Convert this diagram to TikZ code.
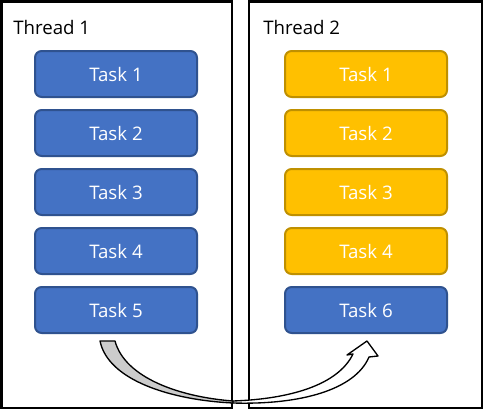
\documentclass[tikz,border=0pt]{standalone}
\usepackage{fontspec}
\setmainfont{Open Sans}
\begin{document}
\begin{tikzpicture}[x=0.75pt,y=-0.75pt,
  threadbox/.style={draw=black,line width=1.5pt},
  taskbase/.style={rounded corners=5pt,line width=1.5pt,minimum width=121.5pt,minimum height=34.5pt,inner sep=0pt,text=white,font=\fontsize{14}{16}\selectfont},
  bluetask/.style={taskbase,fill=blue!5!black!0!white,fill={rgb,255:red,68;green,114;blue,196},draw={rgb,255:red,47;green,82;blue,143}},
  yellowtask/.style={taskbase,fill={rgb,255:red,255;green,192;blue,0},draw={rgb,255:red,191;green,144;blue,0}},
  label/.style={anchor=base west,inner sep=0pt,font=\fontsize{14}{16}\selectfont}]
\useasboundingbox (0,0) rectangle (486,414);
\fill[white] (0,0) rectangle (486,414);
\draw[threadbox] (1.5,1.5) rectangle (232,408);
\draw[threadbox] (249,1.5) rectangle (482,408);
\node[label] (t1) at (13,35) {Thread 1};
\node[label] (t2) at (263,35) {Thread 2};
\foreach \i/\y in {1/74,2/133,3/192,4/251,5/310}{
  \node[bluetask] (a\i) at (116,\y) {Task \i};
}
\foreach \i/\y in {1/74,2/133,3/192,4/251}{
  \node[yellowtask] (b\i) at (366,\y) {Task \i};
}
\node[bluetask] (b6) at (366,310) {Task 6};
% curved arrow
\filldraw[fill=black!20,draw=black,line width=1pt,line join=round]
  (100,341) .. controls (108,380) and (170,400) .. (233,403)
  -- (233,401) .. controls (180,397) and (125,378) .. (115,341) -- cycle;
\filldraw[fill=white,draw=black,line width=1pt,line join=round]
  (233,403) .. controls (300,405) and (355,390) .. (369,357)
  -- (378,356) -- (367,341) -- (347,355) -- (353,354)
  .. controls (338,385) and (290,399) .. (233,401) -- cycle;
\end{tikzpicture}
\end{document}
